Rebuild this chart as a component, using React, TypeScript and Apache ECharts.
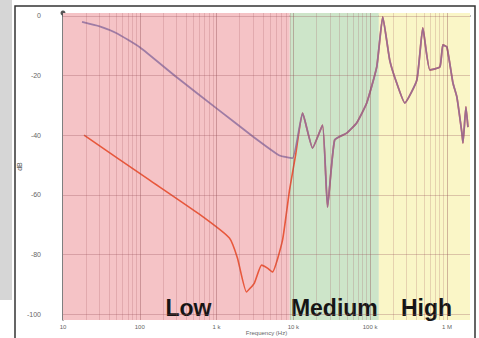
import React, { useEffect, useRef } from "react";
import * as echarts from "echarts";

// ---- data ----
const purpleFreq = [17.7, 30, 50, 100, 300, 1000, 3000, 6600, 9770];
const purpleDb = [-2.0, -3.5, -5.8, -10.5, -20.5, -31, -40.5, -46.8, -47.7];

const redFreq = [18.8, 133, 596, 1470, 1870, 2450, 3110, 3850, 4600, 5350, 7230, 8920, 10700];
const redDb = [-40, -55, -66.5, -74.5, -81.2, -92.6, -89.6, -83.6, -84.6, -85.9, -75.2, -58.4, -46.7];

// part where both traces coincide (medium + high frequencies)
const sharedFreq = [
  13200, 17800, 24000, 27900, 34500, 49500, 66800, 90300, 122000, 146000, 180000,
  222000, 283000, 406000, 486000, 600000, 811000, 887000, 1000000, 1200000,
  1350000, 1570000, 1620000, 1770000, 1880000,
];
const sharedDb = [
  -32.6, -44.3, -36.6, -64.1, -41.6, -39.3, -35.9, -29.2, -17.1, -0.3, -14.8,
  -22.5, -29.2, -21.5, -4.0, -18.1, -17.1, -9.7, -10.4, -22.5,
  -27.2, -39.3, -42.6, -30.5, -37.3,
];

const bandNames = ["Low", "Medium", "High"];
const bandEdges = [10, 9000, 130000, 2000000];
const bandColors = ["#f5c3c6", "#cde5c9", "#faf6c7"];

const xTickLabels = ["10", "100", "1 k", "10 k", "100 k", "1 M"];
const xTickValues = [10, 100, 1000, 10000, 100000, 1000000];
const yTickValues = [0, -20, -40, -60, -80, -100];
const gridMultipliers = [1, 2, 3, 4, 5, 6, 7, 8, 9];
const gridDecades = [10, 100, 1000, 10000, 100000, 1000000];

const zip = (xs: number[], ys: number[]) => xs.map((x, i) => [x, ys[i]]);

export default function App() {
  const ref = useRef<HTMLDivElement>(null);
  useEffect(() => {
    if (!ref.current) return;
    const chart = echarts.init(ref.current, null, { renderer: "svg" });

    const vLines: any[] = [];
    gridDecades.forEach((d) =>
      gridMultipliers.forEach((m) => {
        const v = d * m;
        if (v > 10 && v < 2000000)
          vLines.push({
            xAxis: v,
            lineStyle: { color: m === 1 ? "rgba(140,70,80,0.38)" : "rgba(160,80,90,0.22)", width: 1, type: "solid" },
          });
      })
    );
    const hLines = yTickValues.map((v) => ({
      yAxis: v,
      lineStyle: { color: "rgba(150,80,90,0.3)", width: 1, type: "solid" },
    }));

    const labelOffsets = [[12, 0], [0, 0], [2, 0]];

    chart.setOption({
      animation: false,
      backgroundColor: "#ffffff",
      grid: { left: 63, right: 9, top: 13, bottom: 18, outerBoundsMode: "none", containLabel: false },
      xAxis: {
        type: "log",
        logBase: 10,
        min: 10,
        max: 2000000,
        name: "Frequency (Hz)",
        nameLocation: "middle",
        nameGap: 10,
        nameMoveOverlap: false,
        nameTextStyle: { fontSize: 6, color: "#666", fontFamily: "Liberation Sans" },
        axisLine: { show: true, lineStyle: { color: "#555", width: 1.5 } },
        axisTick: { show: false },
        splitLine: { show: false },
        axisLabel: {
          fontSize: 6,
          color: "#666",
          margin: 4,
          fontFamily: "Liberation Sans",
          customValues: xTickValues,
          formatter: (v: number) => {
            const i = xTickValues.findIndex((t) => Math.abs(t - v) / t < 0.01);
            return i >= 0 ? xTickLabels[i] : "";
          },
        },
      },
      yAxis: {
        type: "value",
        min: -102,
        max: 1,
        name: "dB",
        nameLocation: "middle",
        nameGap: 40,
        nameMoveOverlap: false,
        nameTextStyle: { fontSize: 7, color: "#555", fontFamily: "Liberation Sans" },
        axisLine: {
          show: true,
          lineStyle: { color: "#555", width: 1.5 },
          symbol: ["none", "circle"],
          symbolSize: [5, 5],
        },
        axisTick: { show: false, customValues: yTickValues },
        splitLine: { show: false },
        axisLabel: {
          fontSize: 7,
          color: "#666",
          margin: 22,
          fontFamily: "Liberation Sans",
          customValues: yTickValues,
        },
      },
      series: [
        {
          type: "line",
          data: [],
          z: 1,
          silent: true,
          markArea: {
            silent: true,
            data: bandNames.map((name, i) => [
              {
                name,
                xAxis: bandEdges[i],
                itemStyle: { color: bandColors[i] },
                label: {
                  show: true,
                  position: "insideBottom",
                  distance: 1,
                  offset: labelOffsets[i],
                  fontSize: 23,
                  fontWeight: "bold",
                  color: "#151515",
                  fontFamily: "Liberation Sans",
                },
              },
              { xAxis: bandEdges[i + 1] },
            ]),
          },
        },
        {
          type: "line",
          data: [],
          z: 2,
          silent: true,
          markLine: {
            silent: true,
            symbol: ["none", "none"],
            label: { show: false },
            data: [...vLines, ...hLines],
          },
        },
        {
          name: "red",
          type: "line",
          z: 3,
          showSymbol: false,
          smooth: 0.15,
          lineStyle: { color: "#e8583c", width: 1.6 },
          data: zip(redFreq, redDb).concat(zip(sharedFreq, sharedDb)),
        },
        {
          name: "purple",
          type: "line",
          z: 4,
          showSymbol: false,
          smooth: 0.15,
          lineStyle: { color: "#8f709f", width: 1.8, opacity: 0.85 },
          data: zip(purpleFreq, purpleDb).concat(zip(sharedFreq, sharedDb)),
        },
      ],
      graphic: [
        { type: "rect", shape: { x: 0, y: 0, width: 12, height: 300 }, style: { fill: "#d6d6d6" }, z: 0 },
        {
          type: "rect",
          shape: { x: 15, y: 6, width: 460, height: 345 },
          style: { fill: "none", stroke: "#333", lineWidth: 1.5 },
          z: 100,
        },
      ],
    });
    return () => chart.dispose();
  }, []);
  return <div ref={ref} style={{ width: 479, height: 338, position: "absolute", left: 0, top: 0 }} />;
}
